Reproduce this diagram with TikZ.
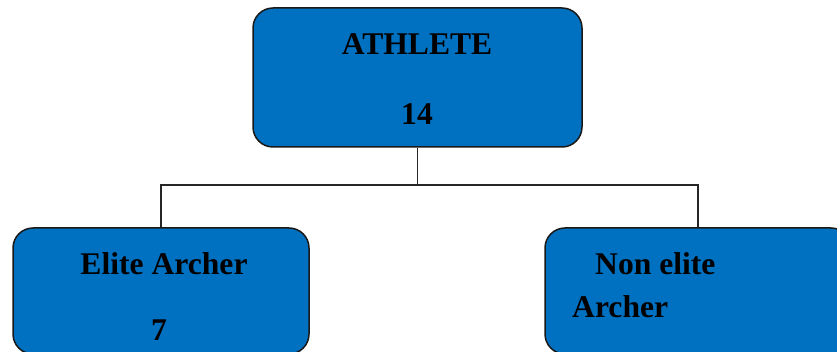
\documentclass[tikz,border=0pt]{standalone}
\usepackage{fontspec}
\setmainfont{Liberation Serif}
\definecolor{boxblue}{RGB}{0,112,192}
\begin{document}
\begin{tikzpicture}[x=1pt,y=-1pt,
  box/.style={draw=black!90, line width=1.5pt, fill=boxblue, rounded corners=20pt, inner sep=0pt},
  conn/.style={draw=black!85, line width=1.2pt},
  lbl/.style={anchor=base, inner sep=0pt, font=\fontsize{31.6pt}{36pt}\selectfont\bfseries}]
\useasboundingbox (0,0) rectangle (837,352);
\clip (0,0) rectangle (837,352);
\node[box, minimum width=329pt, minimum height=139pt] (top) at (417.5,77.5) {};
\node[box, minimum width=296pt, minimum height=126pt] (left) at (161,291) {};
\node[box, minimum width=306pt, minimum height=126pt] (right) at (698,291) {};
\coordinate (mid) at (417.5,185);
\draw[conn] (top.south) -- (mid);
\draw[conn] (left.north) |- (mid) -| (right.north);
\node[lbl] (t1) at (417,55) {ATHLETE};
\node[lbl] (t2) at (417,125) {14};
\node[lbl] (l1) at (164,275) {Elite Archer};
\node[lbl] (l2) at (159,340) {7};
\node[lbl, anchor=base west] (r1) at (595,275) {Non elite};
\node[lbl, anchor=base west] (r2) at (572,317) {Archer};
\end{tikzpicture}
\end{document}
